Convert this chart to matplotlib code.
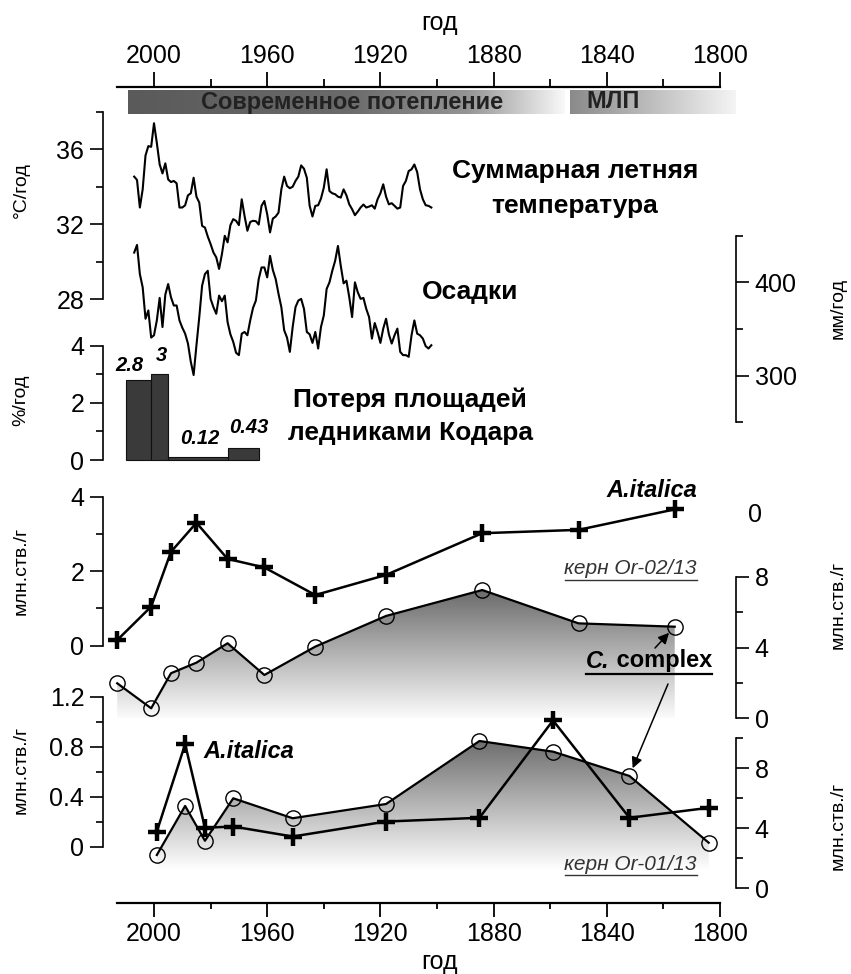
import matplotlib
matplotlib.use("Agg")
import matplotlib.pyplot as plt
import numpy as np
from matplotlib.patches import Polygon
from matplotlib.colors import LinearSegmentedColormap
from matplotlib.lines import Line2D

plt.rcParams['font.family'] = ['Liberation Sans', 'DejaVu Sans']

W, H = 851, 974
fig = plt.figure(figsize=(W / 100, H / 100), dpi=100)

# ------------------------------------------------------------------ data
clim_years = list(range(2007, 1901, -1))
summer_temp = [34.55, 34.37, 32.90, 33.87, 35.68, 36.18, 36.14, 37.40, 36.35, 35.20,
               34.72, 35.26, 34.40, 34.26, 34.32, 34.19, 32.90, 32.90, 33.02, 33.55,
               33.66, 34.49, 33.48, 33.16, 31.92, 31.83, 31.35, 30.95, 30.50, 30.24,
               29.62, 30.41, 31.39, 31.04, 31.96, 32.28, 32.19, 31.96, 33.34, 32.45,
               31.66, 32.13, 32.19, 32.17, 31.99, 32.99, 33.25, 32.54, 31.57, 32.31,
               32.42, 32.63, 33.87, 34.55, 34.05, 33.93, 34.01, 34.32, 34.55, 35.15,
               34.97, 34.49, 32.99, 32.42, 32.99, 33.02, 33.38, 33.96, 34.94, 33.78,
               33.66, 33.61, 33.48, 33.43, 33.87, 33.55, 33.07, 32.81, 32.49, 32.68,
               32.90, 33.06, 32.90, 32.95, 33.02, 32.84, 33.34, 33.66, 34.14, 33.48,
               33.07, 33.13, 32.99, 32.84, 32.90, 34.05, 34.32, 34.85, 34.94, 35.20,
               34.79, 33.87, 33.34, 33.02, 32.99, 32.90]
precip = [431.9, 440.1, 408.9, 394.7, 361.0, 369.9, 340.8, 343.3, 359.2, 383.3,
          352.1, 386.9, 398.2, 384.0, 375.2, 375.2, 359.2, 351.4, 345.0, 334.4,
          314.9, 300.7, 332.6, 362.8, 396.5, 408.9, 412.4, 382.3, 373.4, 366.3,
          385.8, 379.8, 385.8, 357.4, 344.3, 336.2, 324.5, 322.0, 345.0, 346.8,
          343.3, 359.2, 372.7, 380.5, 403.5, 416.0, 416.0, 405.3, 428.4, 413.1,
          403.5, 387.6, 373.4, 348.6, 340.8, 325.5, 352.1, 373.4, 380.5, 382.3,
          371.6, 346.8, 344.3, 335.1, 346.8, 329.1, 352.1, 364.5, 392.9, 400.0,
          412.4, 423.0, 439.0, 417.7, 398.9, 401.8, 384.0, 362.8, 400.0, 389.4,
          382.3, 383.3, 371.6, 362.8, 339.7, 356.4, 346.8, 335.1, 350.4, 361.0,
          344.3, 334.4, 343.3, 350.4, 325.5, 322.0, 322.0, 320.2, 343.3, 359.2,
          345.0, 343.3, 339.7, 331.6, 329.1, 332.6]

glacier_edges = [2010, 2001, 1995, 1974, 1963]
glacier_loss = [2.8, 3.0, 0.12, 0.43]
glacier_labels = ['2.8', '3', '0.12', '0.43']

or02_years = [2013, 2001, 1994, 1985, 1974, 1961, 1943, 1918, 1884, 1850, 1816]
or02_aitalica = [0.15, 1.05, 2.52, 3.30, 2.33, 2.10, 1.36, 1.90, 3.02, 3.11, 3.66]
or02_ccomplex = [1.97, 0.55, 2.54, 3.14, 4.24, 2.44, 4.05, 5.79, 7.26, 5.37, 5.18]

or01_years = [1999, 1989, 1982, 1972, 1951, 1918, 1885, 1859, 1832, 1804]
or01_aitalica = [0.12, 0.82, 0.15, 0.16, 0.08, 0.20, 0.23, 1.01, 0.23, 0.31]
or01_ccomplex = [2.20, 5.47, 3.15, 5.98, 4.65, 5.60, 9.80, 9.09, 7.47, 3.02]

year_ticks = [2000, 1960, 1920, 1880, 1840, 1800]
year_minor = [1980, 1940, 1900, 1860, 1820]
year_span = (2013, 1800)

# ------------------------------------------------------------------ layout helpers
PX_L, PX_R = 103, 736
X2000, PX_PER_YR = 154.0, 2.83


def px2yr(px):
    return 2000 - (px - X2000) / PX_PER_YR


XLIM = (px2yr(PX_L), px2yr(PX_R))
TICK_FS = 18
LAB_FS = 14
TITLE_FS = 19


def add_ax(top, bottom, ylim):
    ax = fig.add_axes([PX_L / W, 1 - bottom / H, (PX_R - PX_L) / W, (bottom - top) / H])
    ax.set_xlim(*XLIM)
    ax.set_ylim(*ylim)
    ax.patch.set_visible(False)
    for s in ax.spines.values():
        s.set_visible(False)
    ax.set_xticks([])
    ax.set_yticks([])
    return ax


def style_y(ax, side, major, labels, minor, bounds):
    sp = ax.spines[side]
    sp.set_visible(True)
    sp.set_bounds(*bounds)
    sp.set_linewidth(1.2)
    if side == 'left':
        ax.yaxis.tick_left()
    else:
        ax.yaxis.tick_right()
    ax.set_yticks(major)
    ax.set_yticklabels(labels)
    ax.set_yticks(minor, minor=True)
    ax.tick_params(axis='y', which='major', length=9.5, width=1.2, pad=4,
                   labelsize=TICK_FS, direction='out')
    ax.tick_params(axis='y', which='minor', length=5, width=1.2, direction='out')


def ftxt(x, y, s, **kw):
    return fig.text(x / W, 1 - y / H, s, **kw)


def underline(t, lw=1.0, gap=1.5):
    fig.canvas.draw()
    bb = t.get_window_extent()
    y = bb.y0 - gap
    fig.add_artist(Line2D([bb.x0 / W, bb.x1 / W], [y / H, y / H],
                          transform=fig.transFigure, color=t.get_color(), lw=lw))


def grad_fill(ax, xs, ys, base, vtop, vbot, c_top, c_bot, ylim):
    verts = list(zip(xs, ys)) + [(xs[-1], base), (xs[0], base)]
    poly = Polygon(verts, closed=True, facecolor='none', edgecolor='none')
    ax.add_patch(poly)
    cmap = LinearSegmentedColormap.from_list('g', [c_bot, c_top])
    grad = np.linspace(0, 1, 256).reshape(-1, 1)
    im = ax.imshow(grad, extent=(xs[0], xs[-1], vbot, vtop), origin='lower',
                   cmap=cmap, aspect='auto', zorder=1, interpolation='bilinear')
    im.set_clip_path(poly)
    ax.set_xlim(*XLIM)
    ax.set_ylim(*ylim)
    ax.set_aspect('auto')


# ------------------------------------------------------------------ top year axis + bands
ax_top = add_ax(87, 120, (120, 87))
ax_top.spines['top'].set_visible(True)
ax_top.spines['top'].set_bounds(*year_span)
ax_top.spines['top'].set_linewidth(1.6)
ax_top.xaxis.tick_top()
ax_top.set_xticks(year_ticks)
ax_top.set_xticklabels([str(v) for v in year_ticks])
ax_top.set_xticks(year_minor, minor=True)
ax_top.tick_params(axis='x', which='major', length=11, width=1.3, pad=3, labelsize=TICK_FS)
ax_top.tick_params(axis='x', which='minor', length=5.5, width=1.3)

band_cmap1 = LinearSegmentedColormap.from_list(
    'b1', [(0, '#5a5a5a'), (0.5, '#6a6a6a'), (0.78, '#959595'), (1.0, '#f8f8f8')])
band_cmap2 = LinearSegmentedColormap.from_list(
    'b2', [(0, '#8a8a8a'), (0.5, '#c4c4c4'), (1.0, '#ffffff')])
grad_h = np.linspace(0, 1, 256).reshape(1, -1)
ax_top.imshow(grad_h, extent=(px2yr(128), px2yr(565), 114, 90), cmap=band_cmap1,
              aspect='auto', interpolation='bilinear')
ax_top.imshow(grad_h, extent=(px2yr(570), px2yr(752), 114, 90), cmap=band_cmap2,
              aspect='auto', interpolation='bilinear')
ax_top.set_xlim(*XLIM)
ax_top.set_ylim(120, 87)
ax_top.set_aspect('auto')
ftxt(352, 102, 'Современное потепление', ha='center', va='center', fontsize=17,
     fontweight='bold', color='#222222')
ftxt(613, 102, 'МЛП', ha='center', va='center', fontsize=17, fontweight='bold',
     color='#222222')
ftxt(440, 23, 'год', ha='center', va='center', fontsize=TICK_FS)

# ------------------------------------------------------------------ temperature
ax_t = add_ax(112, 299.3, (28, 38))
style_y(ax_t, 'left', [28, 32, 36], ['28', '32', '36'], [30, 34, 38], (28, 38))
ax_t.plot(clim_years, summer_temp, color='k', lw=1.5, clip_on=False)

# ------------------------------------------------------------------ precipitation
ax_p = add_ax(235.7, 422.3, (250, 450))
style_y(ax_p, 'right', [300, 400], ['300', '400'], [250, 350, 450], (250, 450))
ax_p.plot(clim_years, precip, color='k', lw=1.5, clip_on=False)

ftxt(575, 171, 'Суммарная летняя', ha='center', va='center', fontsize=TITLE_FS,
     fontweight='bold')
ftxt(575, 206, 'температура', ha='center', va='center', fontsize=TITLE_FS, fontweight='bold')
ftxt(470, 292, 'Осадки', ha='center', va='center', fontsize=TITLE_FS, fontweight='bold')

# ------------------------------------------------------------------ glacier bars
ax_b = add_ax(345.7, 460, (0, 4))
style_y(ax_b, 'left', [0, 2, 4], ['0', '2', '4'], [1, 3], (0, 4))
lefts = glacier_edges[:-1]
widths = [b - a for a, b in zip(glacier_edges[:-1], glacier_edges[1:])]
ax_b.bar(lefts, glacier_loss, width=widths, align='edge', color='#3a3a3a',
         edgecolor='#111111', linewidth=0.8, clip_on=False)
lab_pos = [(2008.6, 2.97), (1997.5, 3.32), (1983.7, 0.42), (1966.4, 0.80)]
for (lx, ly), s in zip(lab_pos, glacier_labels):
    ax_b.text(lx, ly, s, ha='center', va='bottom', fontsize=14.5, fontweight='bold',
              fontstyle='italic')
ftxt(410, 400, 'Потеря площадей', ha='center', va='center', fontsize=TITLE_FS,
     fontweight='bold')
ftxt(410, 433, 'ледниками Кодара', ha='center', va='center', fontsize=TITLE_FS,
     fontweight='bold')

# ------------------------------------------------------------------ panel Or-02/13
ax2r = add_ax(577, 718, (0, 8))
style_y(ax2r, 'right', [0, 4, 8], ['0', '4', '8'], [2, 6], (0, 8))
grad_fill(ax2r, or02_years, or02_ccomplex, 0, 7.4, 0.0, '#686868', '#fbfbfb', (0, 8))
ax2r.plot(or02_years, or02_ccomplex, color='k', lw=1.6, marker='o', ms=11,
          mfc='none', mec='k', mew=1.0, zorder=3, clip_on=False)

ax2l = add_ax(496.7, 645.7, (0, 4))
style_y(ax2l, 'left', [0, 2, 4], ['0', '2', '4'], [1, 3], (0, 4))
ax2l.plot(or02_years, or02_aitalica, color='k', lw=1.8, marker='+', ms=13, mew=3.2,
          zorder=4, clip_on=False)

# ------------------------------------------------------------------ panel Or-01/13
ax3r = add_ax(738, 888, (0, 10))
style_y(ax3r, 'right', [0, 4, 8], ['0', '4', '8'], [2, 6, 10], (0, 10))
grad_fill(ax3r, or01_years, or01_ccomplex, 1.2, 9.9, 1.2, '#6c6c6c', '#ffffff', (0, 10))
ax3r.plot(or01_years, or01_ccomplex, color='k', lw=1.6, marker='o', ms=11,
          mfc='none', mec='k', mew=1.0, zorder=3, clip_on=False)

ax3l = add_ax(696.7, 846.5, (0, 1.2))
style_y(ax3l, 'left', [0, 0.4, 0.8, 1.2], ['0', '0.4', '0.8', '1.2'], [0.2, 0.6, 1.0],
        (0, 1.2))
ax3l.plot(or01_years, or01_aitalica, color='k', lw=1.8, marker='+', ms=13, mew=3.2,
          zorder=4, clip_on=False)

# ------------------------------------------------------------------ bottom axis
ax_bot = add_ax(882, 903, (0, 1))
ax_bot.spines['bottom'].set_visible(True)
ax_bot.spines['bottom'].set_bounds(*year_span)
ax_bot.spines['bottom'].set_linewidth(1.6)
ax_bot.set_xticks(year_ticks)
ax_bot.set_xticklabels([str(v) for v in year_ticks])
ax_bot.set_xticks(year_minor, minor=True)
ax_bot.tick_params(axis='x', which='major', length=10, width=1.3, pad=4, labelsize=TICK_FS)
ax_bot.tick_params(axis='x', which='minor', length=4.5, width=1.3)
ftxt(440, 962, 'год', ha='center', va='center', fontsize=TICK_FS)

# ------------------------------------------------------------------ axis titles
ftxt(21, 190, '°C/год', rotation=90, ha='center', va='center', fontsize=LAB_FS)
ftxt(21, 400, '%/год', rotation=90, ha='center', va='center', fontsize=LAB_FS)
ftxt(21, 571, 'млн.ств./г', rotation=90, ha='center', va='center', fontsize=LAB_FS)
ftxt(21, 770, 'млн.ств./г', rotation=90, ha='center', va='center', fontsize=LAB_FS)
ftxt(838, 308, 'мм/год', rotation=90, ha='center', va='center', fontsize=LAB_FS)
ftxt(838, 605, 'млн.ств./г', rotation=90, ha='center', va='center', fontsize=LAB_FS)
ftxt(838, 826, 'млн.ств./г', rotation=90, ha='center', va='center', fontsize=LAB_FS)
ftxt(748, 515, '0', ha='left', va='center', fontsize=TICK_FS)

# ------------------------------------------------------------------ annotations
ftxt(697, 491, 'A.italica', ha='right', va='center', fontsize=17, fontweight='bold',
     fontstyle='italic')
t1 = ftxt(697, 569, 'керн Or-02/13', ha='right', va='center', fontsize=15,
          fontstyle='italic', color='#333333')
ftxt(203, 752, 'A.italica', ha='left', va='center', fontsize=17, fontweight='bold',
     fontstyle='italic')
t2 = ftxt(697, 864, 'керн Or-01/13', ha='right', va='center', fontsize=15,
          fontstyle='italic', color='#333333')

C_Y = 661
tc = ftxt(586, C_Y, 'C.', ha='left', va='center', fontsize=17, fontweight='bold',
          fontstyle='italic')
fig.canvas.draw()
bbc = tc.get_window_extent()
tc2 = fig.text(bbc.x1 / W, 1 - C_Y / H, ' complex', ha='left', va='center', fontsize=17,
               fontweight='bold')
underline(t1, lw=1.0)
underline(t2, lw=1.0)
fig.canvas.draw()
b1 = tc.get_window_extent()
b2 = tc2.get_window_extent()
yu = min(b1.y0, b2.y0) - 1
fig.add_artist(Line2D([b1.x0 / W, b2.x1 / W], [yu / H, yu / H], transform=fig.transFigure,
                      color='k', lw=1.6))

ax2r.annotate('', xy=(or02_years[-1], or02_ccomplex[-1]), xycoords='data',
              xytext=(655, H - 648), textcoords='figure pixels',
              arrowprops=dict(arrowstyle='-|>', color='k', lw=1.1, mutation_scale=16,
                              shrinkA=0, shrinkB=6))
ax3r.annotate('', xy=(or01_years[8], or01_ccomplex[8]), xycoords='data',
              xytext=(668, H - 684), textcoords='figure pixels',
              arrowprops=dict(arrowstyle='-|>', color='k', lw=1.1, mutation_scale=16,
                              shrinkA=0, shrinkB=6))

fig.savefig('out.png', dpi=100)
